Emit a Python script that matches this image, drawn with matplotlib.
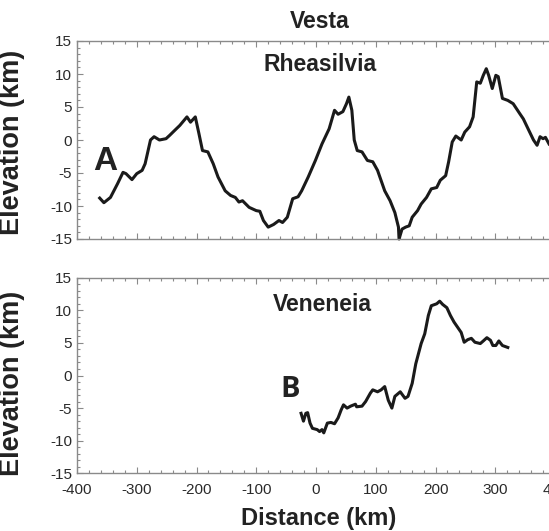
import matplotlib
matplotlib.use("Agg")
import matplotlib.pyplot as plt
from matplotlib.ticker import MultipleLocator

plt.rcParams['font.family'] = ['Liberation Sans', 'DejaVu Sans']
plt.rcParams['axes.unicode_minus'] = False

# Profile A: Rheasilvia
dist_a = [-362, -355, -344, -332, -323, -318, -308, -300, -291, -286, -277, -271, -262, -251,
          -245, -236, -228, -216, -210, -202, -196, -190, -181, -172, -164, -152, -143, -135,
          -129, -123, -112, -100, -94, -88, -80, -71, -62, -56, -48, -39, -30, -24, -13, -1,
          10, 22, 31, 37, 45, 51, 55, 60, 64, 69, 77, 86, 95, 103, 115, 124, 132, 138, 139,
          144, 150, 156, 161, 170, 176, 185, 193, 202, 208, 217, 222, 228, 234, 243, 249, 257,
          263, 269, 275, 280, 285, 289, 295, 301, 305, 312, 321, 330, 341, 347, 356, 364, 370,
          375, 380, 384, 390]
elev_a = [-8.8, -9.5, -8.7, -6.6, -4.9, -5.1, -6.0, -5.1, -4.6, -3.6, 0.0, 0.5, 0.0, 0.2,
          0.7, 1.5, 2.2, 3.5, 2.7, 3.5, 1.0, -1.6, -1.8, -3.6, -5.6, -7.7, -8.4, -8.7,
          -9.4, -9.2, -10.2, -10.7, -10.8, -12.2, -13.2, -12.8, -12.2, -12.5, -11.7, -8.9, -8.6, -7.7, -5.6, -3.1,
          -0.6, 1.7, 4.5, 3.9, 4.3, 5.5, 6.5, 4.5, 0.0, -1.6, -1.8, -3.1, -3.3, -4.6, -7.7, -9.2, -11.0, -13.2, -15.0,
          -13.5, -13.2, -13.0, -11.7, -10.7, -9.7, -8.7, -7.4, -7.2, -6.1, -5.4, -3.3, -0.3, 0.6, 0.0, 1.2, 2.0,
          3.5, 8.8, 8.6, 9.8, 10.8, 9.8, 7.8, 9.8, 9.6, 6.3, 6.0, 5.5, 4.0, 3.2, 1.5, 0.0, -0.8,
          0.5, 0.2, 0.4, -0.6]

# Profile B: Veneneia
dist_b = [-25, -21, -17, -14, -10, -6, 2, 6, 10, 13, 19, 25, 31, 37, 42, 46, 52, 58, 66, 68,
          77, 83, 91, 95, 103, 109, 115, 121, 127, 132, 141, 149, 154, 161, 167, 176, 182, 188,
          193, 202, 207, 212, 219, 225, 231, 237, 243, 248, 254, 260, 266, 275, 280, 286, 292,
          296, 301, 306, 312, 321]
elev_b = [-5.8, -7.0, -5.8, -5.7, -7.3, -8.1, -8.3, -8.6, -8.3, -8.8, -7.3, -7.2, -7.4, -6.5, -5.3, -4.5, -5.0, -4.7, -4.4, -4.8,
          -4.7, -4.0, -2.7, -2.2, -2.5, -2.2, -1.7, -3.8, -5.0, -3.2, -2.5, -3.5, -3.2, -1.2, 1.8, 4.9, 6.4, 9.2,
          10.7, 11.0, 11.4, 10.9, 10.4, 9.2, 8.2, 7.4, 6.6, 5.1, 5.5, 5.7, 5.1, 4.9, 5.3, 5.8, 5.4,
          4.6, 4.6, 5.3, 4.6, 4.3]

x_ticks = [-400, -300, -200, -100, 0, 100, 200, 300, 400]
y_ticks = [-15, -10, -5, 0, 5, 10, 15]

W, H = 549, 531
fig = plt.figure(figsize=(W / 100, H / 100), dpi=100)
left = 77 / W
width = (555 - 77) / W
ax1 = fig.add_axes([left, 1 - 239 / H, width, (239 - 41) / H])
ax2 = fig.add_axes([left, 1 - 473.3 / H, width, (473.3 - 277.7) / H])

spine_c = '#8a8a8a'
txt_c = '#222222'
for ax in (ax1, ax2):
    ax.set_xlim(-400, 400)
    ax.set_ylim(-15, 15)
    ax.set_xticks(x_ticks)
    ax.set_yticks(y_ticks)
    ax.xaxis.set_minor_locator(MultipleLocator(20))
    ax.yaxis.set_minor_locator(MultipleLocator(1))
    ax.tick_params(which='both', direction='in', top=True, bottom=True, left=True, right=False,
                   color=spine_c, width=0.8, labelsize=11, labelcolor='#2a2a2a')
    ax.tick_params(which='major', length=4)
    ax.tick_params(which='minor', length=2.5)
    ax.tick_params(axis='x', pad=7)
    for s in ax.spines.values():
        s.set_color(spine_c)
        s.set_linewidth(1.0)
    ax.set_yticklabels([str(v) for v in y_ticks])
    ax.set_ylabel('Elevation (km)', fontsize=19.5, fontweight='bold', color=txt_c)

ax1.set_xticklabels([])
ax2.set_xticklabels([str(v) for v in x_ticks])
ax1.yaxis.set_label_coords(-0.108, 0.49)
ax2.yaxis.set_label_coords(-0.108, 0.46)

ax1.plot(dist_a, elev_a, color='#1a1a1a', linewidth=2.2, clip_on=False)
ax2.plot(dist_b, elev_b, color='#1a1a1a', linewidth=2.2)

ax1.text(7, 11.5, 'Rheasilvia', ha='center', va='center', fontsize=16.5, fontweight='bold', color=txt_c)
ax2.text(10, 10.9, 'Veneneia', ha='center', va='center', fontsize=16.5, fontweight='bold', color=txt_c)
ax1.text(-353, -3.3, 'A', ha='center', va='center', fontsize=24, color=txt_c, fontweight='bold')
ax2.text(-43, -2.2, 'B', ha='center', va='center', fontsize=21, color=txt_c,
         family=['Open Sans', 'DejaVu Sans'], fontweight='bold')

fig.text(320 / W, 1 - 21 / H, 'Vesta', ha='center', va='center', fontsize=16.5, fontweight='bold', color=txt_c)
fig.text(319 / W, 1 - 518 / H, 'Distance (km)', ha='center', va='center', fontsize=17, fontweight='bold', color=txt_c)

fig.savefig('out.png', dpi=100)
